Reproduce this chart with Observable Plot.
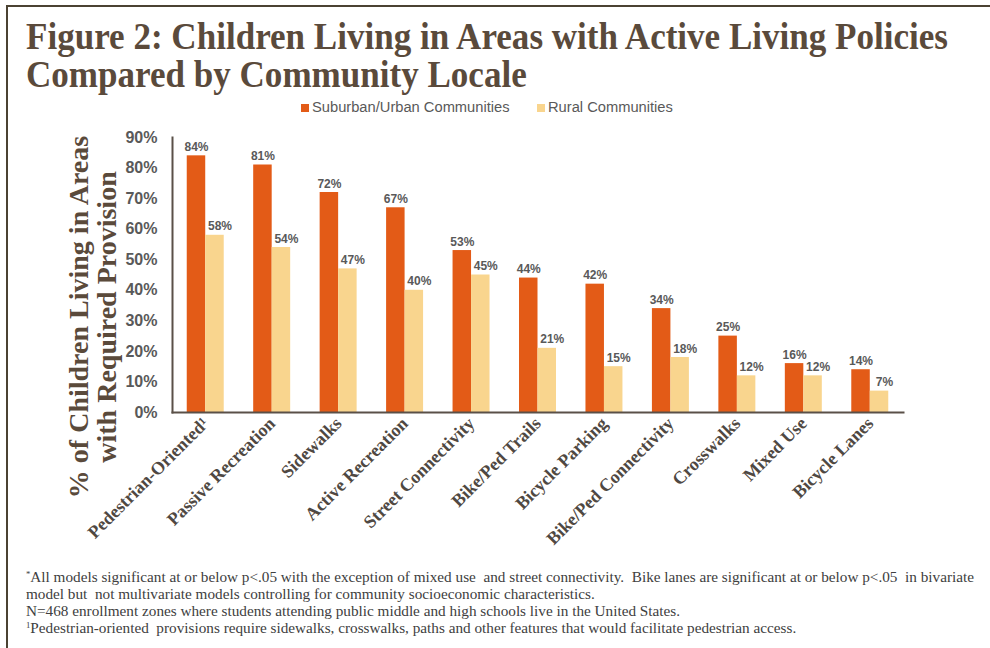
<!DOCTYPE html>
<html><head><meta charset="utf-8">
<script src="https://cdn.jsdelivr.net/npm/d3@7"></script>
<script src="https://cdn.jsdelivr.net/npm/@observablehq/plot@0.6"></script>
<style>
body{margin:0;background:#fff;}
#wrap{position:relative;width:990px;height:648px;overflow:hidden;background:#fff;}
#frameTop{position:absolute;left:6px;top:5px;width:984px;height:2px;background:#4b4232;}
#frameLeft{position:absolute;left:6px;top:5px;width:2px;height:643px;background:#4b4232;}
.title{position:absolute;left:26px;font-family:"Liberation Serif",serif;font-weight:bold;font-size:37px;line-height:1;color:#5a4a3b;white-space:nowrap;transform-origin:0 0;}
.leg{position:absolute;top:98px;font-family:"Liberation Sans",Arial,sans-serif;font-size:14.7px;line-height:18px;color:#595959;white-space:nowrap;}
.leg span.sw{display:inline-block;width:8px;height:8px;margin-right:3px;vertical-align:0px;}
#chart{position:absolute;left:0;top:120px;}
#foot{position:absolute;left:26px;top:569px;font-family:"Liberation Serif",serif;font-size:14px;line-height:17px;color:#404040;white-space:nowrap;transform-origin:0 0;}
#foot sup{font-size:8px;vertical-align:5px;line-height:0;}
</style></head>
<body>
<div id="wrap">
  <div id="frameTop"></div><div id="frameLeft"></div>
  <div class="title" id="t1" style="top:18px">Figure 2: Children Living in Areas with Active Living Policies</div>
  <div class="title" id="t2" style="top:56px">Compared by Community Locale</div>
  <div id="legend"></div>
  <div id="chart"></div>
  <div id="foot">
    <div id="f1"><sup>*</sup>All models significant at or below p&lt;.05 with the exception of mixed use&nbsp; and street connectivity.&nbsp; Bike lanes are significant at or below p&lt;.05&nbsp; in bivariate</div>
    <div>model but&nbsp; not multivariate models controlling for community socioeconomic characteristics.</div>
    <div>N=468 enrollment zones where students attending public middle and high schools live in the United States.</div>
    <div><sup>1</sup>Pedestrian-oriented&nbsp; provisions require sidewalks, crosswalks, paths and other features that would facilitate pedestrian access.</div>
  </div>
</div>
<script>
const categories = ["Pedestrian-Oriented¹", "Passive Recreation", "Sidewalks", "Active Recreation", "Street Connectivity", "Bike/Ped Trails", "Bicycle Parking", "Bike/Ped Connectivity", "Crosswalks", "Mixed Use", "Bicycle Lanes"];
const series = ["Suburban/Urban Communities", "Rural Communities"];
const suburban = [84, 81, 72, 67, 53, 44, 42, 34, 25, 16, 14];
const rural = [58, 54, 47, 40, 45, 21, 15, 18, 12, 12, 7];
const yTicks = [0, 10, 20, 30, 40, 50, 60, 70, 80, 90];
const colors = ["#E35B17", "#F9D58E"];
const yTitle = "% of Children Living in Areas\nwith Required Provision";

const data = categories.flatMap((c, i) => [
  {category: c, series: series[0], value: suburban[i]},
  {category: c, series: series[1], value: rural[i]}
]);

// legend
const legend = document.getElementById("legend");
const legLeft = [301, 537];
series.forEach((s, i) => {
  const d = document.createElement("div");
  d.className = "leg";
  d.style.left = legLeft[i] + "px";
  d.innerHTML = `<span class="sw" style="background:${colors[i]}"></span>${s}`;
  legend.appendChild(d);
});

// fit title and footnote widths
const t1 = document.getElementById("t1"), t2 = document.getElementById("t2");
const sx = 922 / t1.getBoundingClientRect().width;
t1.style.transform = `scaleX(${sx})`;
t2.style.transform = `scaleX(${sx})`;
const foot = document.getElementById("foot"), f1 = document.getElementById("f1");
const range = document.createRange(); range.selectNodeContents(f1);
const fsx = 948 / range.getBoundingClientRect().width;
foot.style.transform = `scaleX(${fsx})`;

const labelStyle = {fontFamily: "Liberation Sans, Arial, sans-serif", fontSize: 12, fontWeight: "bold", fill: "#595959", lineAnchor: "bottom"};

const chart = Plot.plot({
  width: 990,
  height: 440,
  marginTop: 17,
  marginBottom: 148,
  marginLeft: 172,
  marginRight: 87,
  style: {background: "transparent", overflow: "visible"},
  fx: {domain: categories, padding: 0, round: false, label: null},
  x: {domain: series, paddingInner: 0, paddingOuter: 0.797, round: false, axis: null},
  y: {domain: [0, 90], label: null},
  color: {domain: series, range: colors},
  marks: [
    Plot.barY(data, {fx: "category", x: "series", y: "value", fill: "series"}),
    Plot.text(data, {filter: d => d.series === series[0], fx: "category", x: "series", y: "value", text: d => d.value + "%", dy: -5, ...labelStyle}),
    Plot.text(data, {filter: d => d.series === series[1], fx: "category", x: "series", y: "value", text: d => d.value + "%", dy: -5, dx: 5, ...labelStyle}),
    Plot.axisY({ticks: yTicks, tickFormat: d => d + "%", tickSize: 0, tickPadding: 15, fontSize: 16, fontWeight: "bold", fill: "#595959", fontFamily: "Liberation Sans, Arial, sans-serif", label: null}),
    Plot.axisFx({anchor: "bottom", tickRotate: -45, tickSize: 0, tickPadding: 8, fontSize: 18, fontWeight: "bold", fontFamily: "Liberation Serif, serif", fill: "#4f4842", label: null}),
    Plot.frame({anchor: "left", facet: "super", stroke: "#5a5048", strokeWidth: 2}),
    Plot.frame({anchor: "bottom", facet: "super", stroke: "#5a5048", strokeWidth: 2}),
    Plot.text([yTitle], {text: d => d, facet: "super", frameAnchor: "left", textAnchor: "middle", rotate: -90, dx: -79, dy: 42, fontSize: 28, lineHeight: 1.0, fontWeight: "bold", fontFamily: "Liberation Serif, serif", fill: "#5a4a3b"})
  ]
});
document.getElementById("chart").appendChild(chart);
</script>
</body></html>
